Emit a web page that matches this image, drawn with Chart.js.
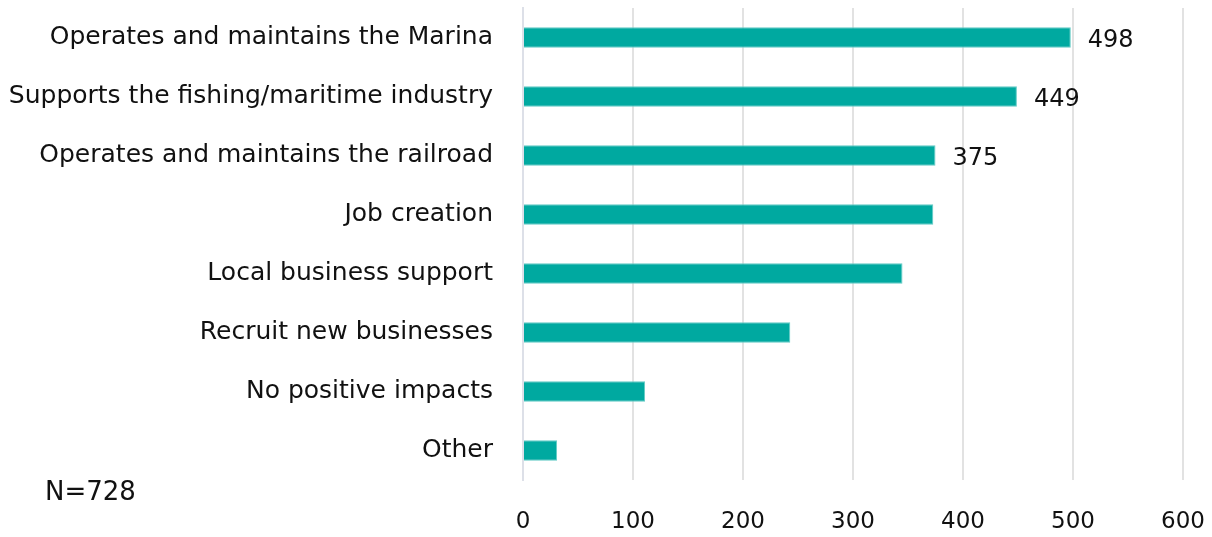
<!DOCTYPE html>
<html>
<head>
<meta charset="utf-8">
<script src="https://cdn.jsdelivr.net/npm/chart.js@4.4.1/dist/chart.umd.min.js"></script>
<style>
  html, body { margin: 0; padding: 0; background: #ffffff; }
  #wrap { position: relative; width: 1212px; height: 537px; }
  #note { position: absolute; left: 45px; top: 476px; font-family: "DejaVu Sans", sans-serif; font-size: 26px; color: #111; line-height: 30px; }
</style>
</head>
<body>
<div id="wrap">
  <canvas id="c" width="1212" height="537"></canvas>
  <div id="note">N=728</div>
</div>
<script>
const categories = [
  "Operates and maintains the Marina",
  "Supports the fishing/maritime industry",
  "Operates and maintains the railroad",
  "Job creation",
  "Local business support",
  "Recruit new businesses",
  "No positive impacts",
  "Other"
];
const counts = [498, 449, 375, 373, 345, 243, 111, 31];
// only the top three bars carry a value label
const labelled = [true, true, true, false, false, false, false, false];
const xTicks = [0, 100, 200, 300, 400, 500, 600];

const BAR = "#00a9a0";
const FONT = "'DejaVu Sans', sans-serif";

const valueLabels = {
  id: "valueLabels",
  afterDatasetsDraw(chart) {
    const ctx = chart.ctx;
    const meta = chart.getDatasetMeta(0);
    ctx.save();
    ctx.font = "24px 'DejaVu Sans', sans-serif";
    ctx.fillStyle = "#111";
    ctx.textBaseline = "middle";
    ctx.textAlign = "left";
    meta.data.forEach((bar, i) => {
      if (!labelled[i]) return;
      ctx.fillText(String(counts[i]), bar.x + 17, bar.y + 3);
    });
    ctx.restore();
  }
};

new Chart(document.getElementById("c"), {
  type: "bar",
  data: {
    labels: categories,
    datasets: [{
      data: counts,
      backgroundColor: BAR,
      borderColor: "#62cbc5",
      borderWidth: 1,
      barPercentage: 0.7,
      categoryPercentage: 0.5
    }]
  },
  options: {
    indexAxis: "y",
    responsive: false,
    animation: false,
    layout: { padding: { top: 8, right: 29, left: 0, bottom: 0 } },
    plugins: { legend: { display: false }, tooltip: { enabled: false } },
    scales: {
      x: {
        min: 0,
        max: 600,
        afterBuildTicks(scale) { scale.ticks = xTicks.map(v => ({ value: v })); },
        afterFit(scale) {
          scale.height = 57;
          scale.paddingLeft = 0;
          scale.paddingRight = 0;
        },
        grid: { color: "#e2e2e2", lineWidth: 2, drawTicks: false },
        border: { display: false },
        ticks: { padding: 28, color: "#111", font: { family: FONT, size: 23 } }
      },
      y: {
        afterFit(scale) {
          scale.width = 523;
          scale.paddingTop = 0;
          scale.paddingBottom = 0;
        },
        grid: { display: false, drawTicks: false },
        border: { display: true, color: "#dde0e8", width: 2 },
        ticks: { padding: 30, color: "#111", font: { family: FONT, size: 25 } }
      }
    }
  },
  plugins: [valueLabels]
});
</script>
</body>
</html>
